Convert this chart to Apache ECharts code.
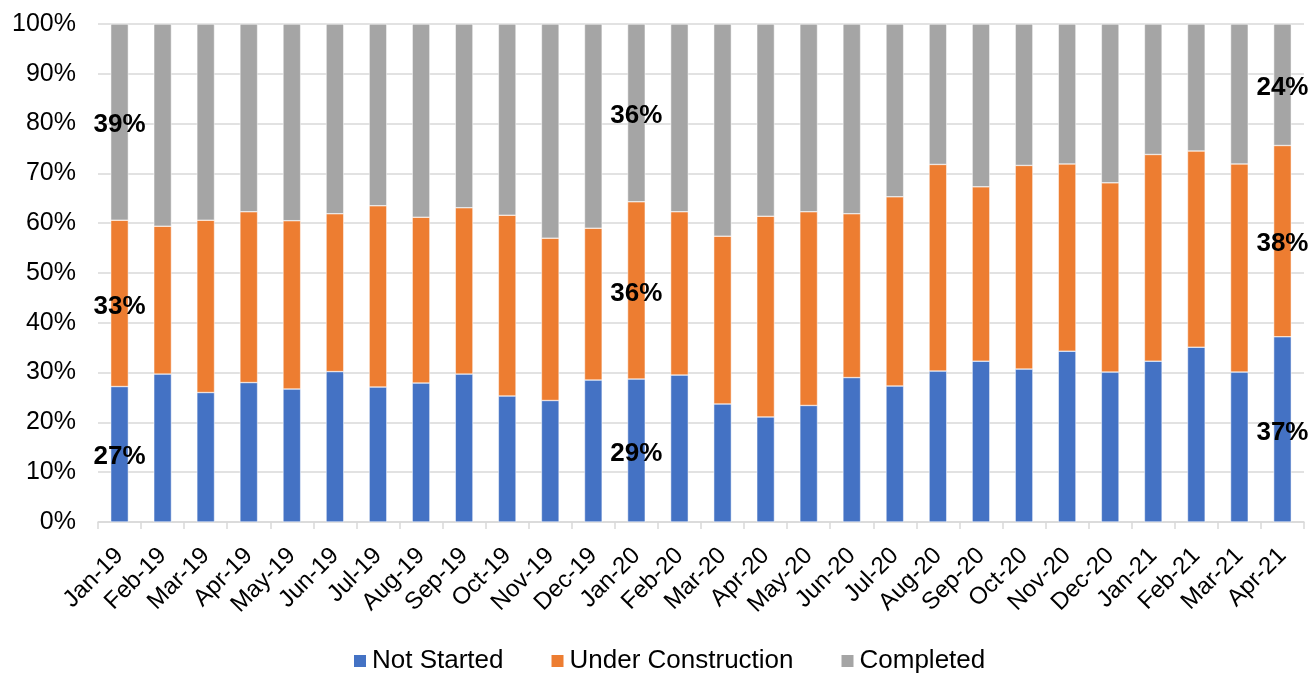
<!DOCTYPE html>
<html>
<head>
<meta charset="utf-8">
<script src="https://cdn.jsdelivr.net/npm/echarts@6/dist/echarts.min.js"></script>
<style>
  html, body { margin: 0; padding: 0; background: #fff; }
  #chart { width: 1310px; height: 675px; }
</style>
</head>
<body>
<div id="chart"></div>
<script>
const months = ["Jan-19","Feb-19","Mar-19","Apr-19","May-19","Jun-19","Jul-19","Aug-19","Sep-19","Oct-19","Nov-19","Dec-19",
  "Jan-20","Feb-20","Mar-20","Apr-20","May-20","Jun-20","Jul-20","Aug-20","Sep-20","Oct-20","Nov-20","Dec-20",
  "Jan-21","Feb-21","Mar-21","Apr-21"];
const notStarted = [27.2,29.7,26.0,28.0,26.7,30.2,27.1,27.9,29.7,25.3,24.4,28.5,
  28.7,29.5,23.7,21.1,23.4,29.0,27.3,30.3,32.3,30.7,34.3,30.1,32.3,35.1,30.1,37.2];
const underConstruction = [33.4,29.7,34.6,34.3,33.8,31.7,36.4,33.3,33.4,36.3,32.6,30.5,
  35.6,32.8,33.7,40.3,38.9,32.9,38.0,41.5,35.0,40.9,37.6,38.0,41.5,39.4,41.8,38.4];
const completed = [39.4,40.6,39.4,37.7,39.5,38.1,36.5,38.8,36.9,38.4,43.0,41.0,
  35.7,37.7,42.6,38.6,37.7,38.1,34.7,28.2,32.7,28.4,28.1,31.9,26.2,25.5,28.1,24.4];
// months that get a data label
const labelled = ["Jan-19","Jan-20","Apr-21"];

let myChart = echarts.init(document.getElementById("chart"));

function mkSeries(name, data, color) {
  return {
    name: name,
    type: "bar",
    stack: "total",
    barWidth: "41%",
    data: data,
    itemStyle: { color: color, borderColor: "#fff", borderWidth: 0.5 },
    label: {
      show: true,
      position: "inside",
      offset: [0, 3],
      color: "#000",
      fontSize: 26,
      fontWeight: "bold",
      fontFamily: "Liberation Sans",
      formatter: p => labelled.includes(p.name) ? Math.round(p.value) + "%" : ""
    }
  };
}

myChart.setOption({
  animation: false,
  textStyle: { fontFamily: "Liberation Sans" },
  grid: { left: 98, right: 6, top: 24, bottom: 153 },
  legend: {
    top: 643,
    left: 347,
    itemWidth: 14,
    itemHeight: 14,
    itemGap: 46,
    icon: "rect",
    textStyle: { fontSize: 26, color: "#000", fontFamily: "Liberation Sans" },
    data: ["Not Started", "Under Construction", "Completed"]
  },
  xAxis: {
    type: "category",
    data: months,
    axisLine: { lineStyle: { color: "#d9d9d9", width: 1.5 } },
    axisTick: { show: true, length: 7, lineStyle: { color: "#d9d9d9", width: 1.5 } },
    axisLabel: { rotate: 45, fontSize: 24, color: "#000", margin: 30, interval: 0 }
  },
  yAxis: {
    type: "value",
    min: 0,
    max: 100,
    interval: 10,
    axisLabel: { fontSize: 25, color: "#000", formatter: "{value}%", margin: 22 },
    splitLine: { lineStyle: { color: "#d9d9d9", width: 1.5 } },
    axisLine: { show: false },
    axisTick: { show: false }
  },
  series: [
    mkSeries("Not Started", notStarted, "#4472C4"),
    mkSeries("Under Construction", underConstruction, "#ED7D31"),
    mkSeries("Completed", completed, "#A5A5A5")
  ]
});
</script>
</body>
</html>
